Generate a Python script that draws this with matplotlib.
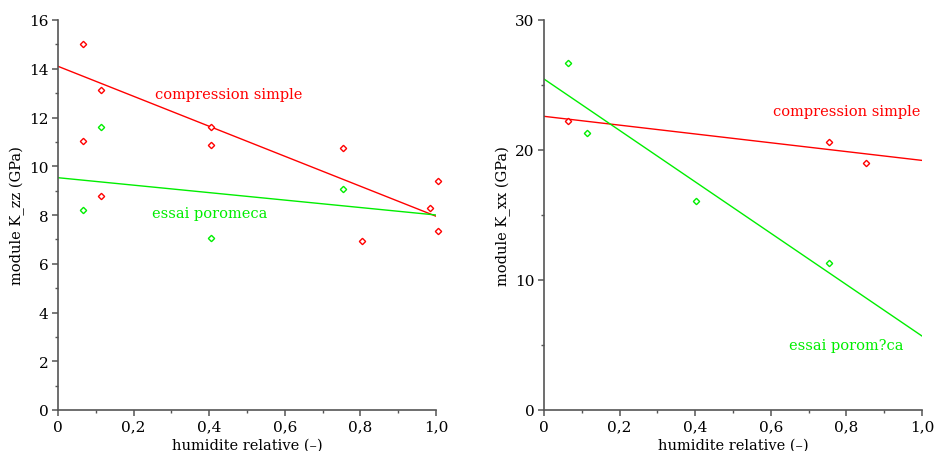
import matplotlib
matplotlib.use("Agg")
import matplotlib.pyplot as plt
from matplotlib.ticker import MultipleLocator, FuncFormatter

plt.rcParams['font.family'] = ['DejaVu Serif']

# ---- left panel: K_zz ----
zz_cs_x = [0.065, 0.065, 0.115, 0.115, 0.405, 0.405, 0.755, 0.803, 0.983, 1.004, 1.004]
zz_cs_y = [15.0, 11.03, 13.12, 8.8, 11.62, 10.88, 10.75, 6.93, 8.29, 9.39, 7.36]
zz_pm_x = [0.065, 0.115, 0.405, 0.755]
zz_pm_y = [8.19, 11.62, 7.07, 9.07]
zz_fit_x = [0.0, 1.0]
zz_cs_fit = [14.1, 7.95]
zz_pm_fit = [9.53, 8.0]

# ---- right panel: K_xx ----
xx_cs_x = [0.064, 0.754, 0.853]
xx_cs_y = [22.23, 20.59, 19.03]
xx_pm_x = [0.064, 0.115, 0.403, 0.754]
xx_pm_y = [26.69, 21.28, 16.05, 11.33]
xx_fit_x = [0.0, 1.0]
xx_cs_fit = [22.59, 19.2]
xx_pm_fit = [25.46, 5.69]

RED = '#ff0000'
GREEN = '#00ee00'
SPINE = '#555555'

fig = plt.figure(figsize=(9.34, 4.52), dpi=100)
ax1 = fig.add_axes([58/934, 1-411/452, 378/934, 390/452])
ax2 = fig.add_axes([544/934, 1-411/452, 378/934, 390/452])

fmt = FuncFormatter(lambda v, p: ('%.1f' % v).replace('.', ',') if v != 0 else '0')

def style(ax, ymax, ymaj, ymin, ylabel):
    ax.set_xlim(0, 1.0)
    ax.set_ylim(0, ymax)
    for s in ['top', 'right']:
        ax.spines[s].set_visible(False)
    for s in ['left', 'bottom']:
        ax.spines[s].set_color(SPINE)
        ax.spines[s].set_linewidth(1.2)
    ax.xaxis.set_major_locator(MultipleLocator(0.2))
    ax.xaxis.set_minor_locator(MultipleLocator(0.1))
    ax.yaxis.set_major_locator(MultipleLocator(ymaj))
    ax.yaxis.set_minor_locator(MultipleLocator(ymin))
    ax.xaxis.set_major_formatter(fmt)
    ax.tick_params(which='major', direction='out', length=4, width=1.1,
                   color=SPINE, labelsize=11, pad=3)
    ax.tick_params(which='minor', direction='out', length=2, width=1.0, color=SPINE)
    ax.set_xlabel('humidite relative (–)', fontsize=10.5, labelpad=3)
    ax.set_ylabel(ylabel, fontsize=10.5, labelpad=3)

mk = dict(linestyle='none', marker='D', markersize=3.2, markerfacecolor='white',
          markeredgewidth=1.0, clip_on=False)

# left
ax1.plot(zz_fit_x, zz_cs_fit, color=RED, lw=1.0)
ax1.plot(zz_fit_x, zz_pm_fit, color=GREEN, lw=1.0)
ax1.plot(zz_cs_x, zz_cs_y, color=RED, markeredgecolor=RED, **mk)
ax1.plot(zz_pm_x, zz_pm_y, color=GREEN, markeredgecolor=GREEN, **mk)
ax1.text(0.257, 12.96, 'compression simple', color=RED, fontsize=10.5, va='center', ha='left')
ax1.text(0.249, 8.08, 'essai poromeca', color=GREEN, fontsize=10.5, va='center', ha='left')
style(ax1, 16, 2, 1, 'module K_zz (GPa)')

# right
ax2.plot(xx_fit_x, xx_cs_fit, color=RED, lw=1.0)
ax2.plot(xx_fit_x, xx_pm_fit, color=GREEN, lw=1.0)
ax2.plot(xx_cs_x, xx_cs_y, color=RED, markeredgecolor=RED, **mk)
ax2.plot(xx_pm_x, xx_pm_y, color=GREEN, markeredgecolor=GREEN, **mk)
ax2.text(0.605, 23.0, 'compression simple', color=RED, fontsize=10.5, va='center', ha='left')
ax2.text(0.649, 5.0, 'essai porom?ca', color=GREEN, fontsize=10.5, va='center', ha='left')
style(ax2, 30, 10, 5, 'module K_xx (GPa)')

fig.savefig('out.png', dpi=100)
